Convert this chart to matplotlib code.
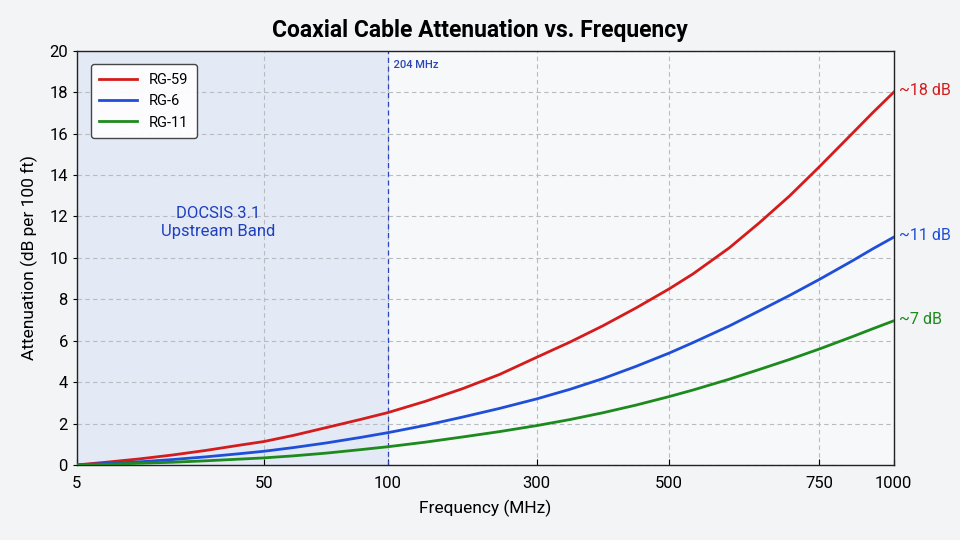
import numpy as np
import matplotlib.pyplot as plt

# frequency (MHz) where the curves were read
freq = [5, 12, 20, 28, 36, 44, 50, 62, 75, 89, 100, 150, 200, 250, 300,
        350, 400, 450, 500, 540, 600, 650, 700, 750, 860, 930, 1000]

rg59 = [0, 0.13, 0.29, 0.48, 0.7, 0.95, 1.13, 1.43, 1.8, 2.2, 2.53, 3.07,
        3.68, 4.37, 5.2, 5.93, 6.72, 7.58, 8.5, 9.23, 10.48, 11.69, 12.98,
        14.4, 16.0, 17.02, 18.0]

rg6 = [0, 0.07, 0.15, 0.26, 0.39, 0.54, 0.66, 0.84, 1.06, 1.33, 1.56, 1.91,
       2.31, 2.73, 3.19, 3.65, 4.17, 4.76, 5.4, 5.91, 6.71, 7.44, 8.18, 8.96,
       9.85, 10.44, 11.0]

rg11 = [0, 0.03, 0.08, 0.13, 0.2, 0.28, 0.34, 0.44, 0.57, 0.74, 0.88, 1.10,
        1.35, 1.61, 1.90, 2.19, 2.52, 2.89, 3.30, 3.62, 4.14, 4.61, 5.09,
        5.60, 6.19, 6.58, 6.96]

series_names = ["RG-59", "RG-6", "RG-11"]
series_colors = ["#d41c1c", "#1f4fd8", "#1c8a1c"]
end_labels = ["~18 dB", "~11 dB", "~7 dB"]

x_ticks = [5, 50, 100, 300, 500, 750, 1000]
# where each tick sits along the axis (0 = left, 1 = right)
x_tick_pos = [0.0, 0.229, 0.381, 0.563, 0.725, 0.909, 1.0]

band_edge = 100          # axis value where the band boundary is drawn
band_label = "204 MHz"


def fwd(f):
    return np.interp(f, x_ticks, x_tick_pos)


def inv(p):
    return np.interp(p, x_tick_pos, x_ticks)


plt.rcParams["font.family"] = ["Roboto", "DejaVu Sans"]

fig = plt.figure(figsize=(9.6, 5.4), dpi=100)
fig.patch.set_facecolor("#f3f4f6")
ax = fig.add_axes([0.080, 0.139, 0.851, 0.767])
ax.set_facecolor("#f7f8fa")

ax.set_xscale("function", functions=(fwd, inv))
ax.set_xlim(5, 1000)
ax.set_ylim(0, 20)

# ==========================
# Band shading
# ==========================

ax.axvspan(5, band_edge, color="#e3eaf6", zorder=0)
ax.axvline(band_edge, color="#2a46b8", linestyle=(0, (4, 3)),
           linewidth=0.9, zorder=1)
ax.text(band_edge, 19.3, "  " + band_label, color="#2a46b8",
        fontsize=8, fontweight="medium", va="center", ha="left")
ax.text(0.173, 0.585, "DOCSIS 3.1\nUpstream Band", transform=ax.transAxes,
        color="#1f3fbf", fontsize=12, ha="center", va="center",
        linespacing=1.25)

# ==========================
# Curves
# ==========================

for vals, name, color, lab in zip([rg59, rg6, rg11], series_names,
                                  series_colors, end_labels):
    ax.plot(freq, vals, color=color, linewidth=2.0, label=name, zorder=3,
            solid_joinstyle="round")
    ax.annotate(lab, xy=(freq[-1], vals[-1]), xytext=(4, 1),
                textcoords="offset points", color=color, fontsize=11.5,
                ha="left", va="center", annotation_clip=False)

ax.set_xticks(x_ticks)
ax.set_xticklabels([str(t) for t in x_ticks])
ax.set_yticks(range(0, 21, 2))
ax.tick_params(axis="x", direction="in", length=4, labelsize=12, pad=8)
ax.tick_params(axis="y", direction="out", length=3, labelsize=12)

ax.grid(True, color="#b8bbc1", linestyle=(0, (4, 3)), linewidth=0.8)
ax.set_axisbelow(True)

for s in ax.spines.values():
    s.set_color("#222222")
    s.set_linewidth(1.0)

ax.set_xlabel("Frequency (MHz)", fontsize=12.5, labelpad=6)
ax.set_ylabel("Attenuation (dB per 100 ft)", fontsize=12.5, labelpad=8)
fig.suptitle("Coaxial Cable Attenuation vs. Frequency", fontsize=16.5,
             fontweight="bold", y=0.965)

leg = ax.legend(loc="upper left", bbox_to_anchor=(0.008, 0.985),
                fontsize=10.5, frameon=True, handlelength=2.6,
                borderpad=0.6, labelspacing=0.5)
leg.get_frame().set_edgecolor("#333333")
leg.get_frame().set_facecolor("white")
leg.get_frame().set_alpha(0.9)

fig.savefig("out.png", dpi=100, facecolor=fig.get_facecolor())
